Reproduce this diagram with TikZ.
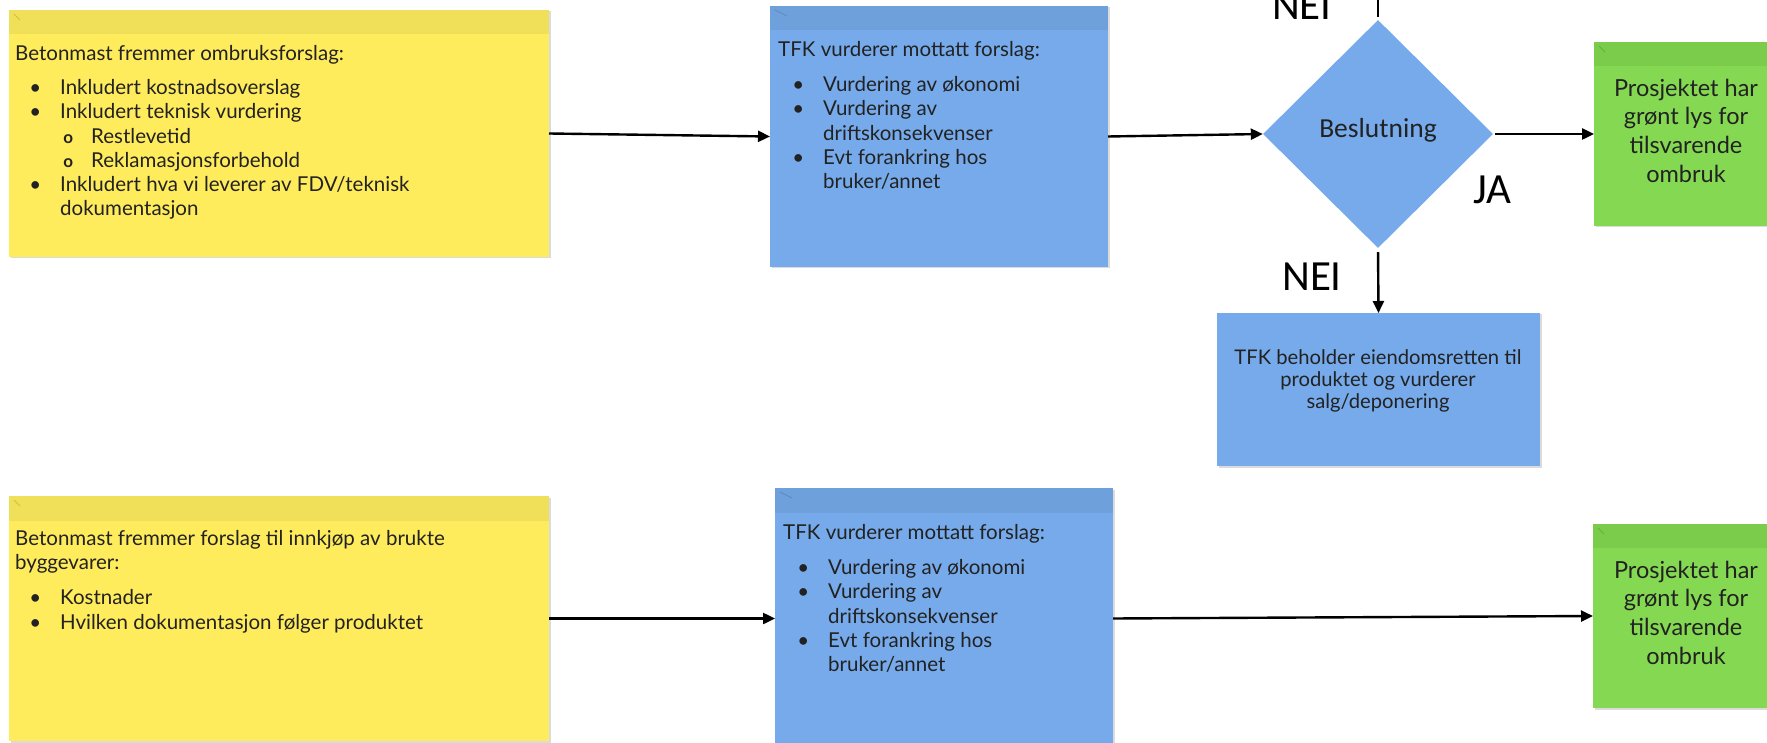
\documentclass[tikz,border=0pt]{standalone}
\usepackage{fontspec}
\setmainfont{Lato}
\newfontfamily\calib{Carlito}
\usetikzlibrary{arrows.meta,shapes.geometric,fit,calc}
\definecolor{ybody}{HTML}{FFEC5C}
\definecolor{yhead}{HTML}{F0DF58}
\definecolor{bbody}{HTML}{76AAEA}
\definecolor{bhead}{HTML}{6EA0DC}
\definecolor{gbody}{HTML}{85D952}
\definecolor{ghead}{HTML}{7ACC4A}
\definecolor{ink}{HTML}{222222}
\newcommand\lone[1]{\hspace*{20pt}\makebox[0pt]{\textbullet}\hspace*{25pt}#1}
\newcommand\lcont[1]{\hspace*{45pt}#1}
\newcommand\ltwo[1]{\hspace*{53pt}\makebox[0pt]{\fontsize{17}{17}\selectfont\bfseries o}\hspace*{23pt}#1}
\newcommand\topstrut[1]{\rule{0pt}{#1}}
\begin{document}
\begin{tikzpicture}[x=1pt,y=-1pt,
  box/.style={inner sep=0pt, outer sep=0pt, preaction={fill=black!14, transform canvas={shift={(1.5pt,-1.5pt)}}}},
  stxt/.style={anchor=north west, inner sep=0pt, align=left, text=ink, font=\fontsize{20.5}{24.3}\selectfont},
  ctxt/.style={inner sep=0pt, align=center, text=ink},
  lbl/.style={inner sep=0pt, anchor=base, text=black, font=\calib\fontsize{43}{46}\selectfont},
  conn/.style={line width=2.4pt, -{Triangle[length=12pt,width=11pt]}},
  icon/.style={line width=0.8pt, opacity=0.35}
]
\useasboundingbox (0,0) rectangle (1767,743);
\clip (0,0) rectangle (1767,743);
\fill[white] (0,0) rectangle (1767,743);

% ---- top row ----
\node[box, fit={(9,10) (549,257)}, fill=ybody] (y1) {};
\fill[yhead] (y1.north west) rectangle ($(y1.north east)+(0,24)$);
\draw[icon, yhead!60!black] ($(y1.north west)+(5,4)$) -- ++(6,6);
\node[stxt] (y1t) at (15,40) {\topstrut{20pt}Betonmast fremmer ombruksforslag:\\[10pt]
\lone{Inkludert kostnadsoverslag}\\
\lone{Inkludert teknisk vurdering}\\
\ltwo{Restlevetid}\\
\ltwo{Reklamasjonsforbehold}\\
\lone{Inkludert hva vi leverer av FDV/teknisk}\\
\lcont{dokumentasjon}};

\node[box, fit={(770,6) (1108,267)}, fill=bbody] (b1) {};
\fill[bhead] (b1.north west) rectangle ($(b1.north east)+(0,24)$);
\draw[icon, bhead!60!black] ($(b1.north west)+(5,4)$) -- ++(12,6);
\node[stxt] (b1t) at (778,36) {\topstrut{20pt}TFK vurderer mottatt forslag:\\[11pt]
\lone{Vurdering av økonomi}\\
\lone{Vurdering av}\\
\lcont{driftskonsekvenser}\\
\lone{Evt forankring hos}\\
\lcont{bruker/annet}};

\node[diamond, aspect=1, fill=bbody, minimum width=230pt, minimum height=228pt, inner sep=0pt] (d) at (1378,134) {};
\node[ctxt, font=\calib\fontsize{27.5}{30}\selectfont] (dt) at (1378,130) {Beslutning};

\node[box, fit={(1594,42) (1778,226)}, fill=gbody] (g1) {};
\fill[ghead] (g1.north west) rectangle ($(g1.north east)+(0,24)$);
\draw[icon, ghead!60!black] ($(g1.north west)+(5,4)$) -- ++(6,6);
\node[ctxt, anchor=north, font=\fontsize{23.5}{28.7}\selectfont] (g1t) at (1686,74) {\topstrut{22pt}Prosjektet har\\grønt lys for\\tilsvarende\\ombruk};

\node[box, fit={(1217,313) (1540,466)}, fill=bbody] (b3) {};
\node[ctxt, anchor=north, font=\fontsize{20.2}{22}\selectfont] (b3t) at (1378,344) {\topstrut{20pt}TFK beholder eiendomsretten til\\produktet og vurderer\\salg/deponering};

\node[lbl] (nei1) at (1302,20) {NEI};
\node[lbl] (ja) at (1492,204) {JA};
\node[lbl] (nei2) at (1312,291) {NEI};

\draw[conn] (y1.east) -- (b1.west);
\draw[conn] (b1.east) -- (d.west);
\draw[conn, shorten <=2pt] (d.east) -- (g1.west);
\draw[conn, shorten <=4pt] (d.south) -- (b3.north);
\coordinate (up) at (1378,-20);
\draw[line width=2.4pt, shorten <=3pt] (d.north) -- (up);

% ---- bottom row ----
\node[box, fit={(9,496) (549,741)}, fill=ybody] (y2) {};
\fill[yhead] (y2.north west) rectangle ($(y2.north east)+(0,25)$);
\draw[icon, yhead!60!black] ($(y2.north west)+(5,4)$) -- ++(6,6);
\node[stxt] (y2t) at (15,525) {\topstrut{20pt}Betonmast fremmer forslag til innkjøp av brukte\\
byggevarer:\\[11pt]
\lone{Kostnader}\\
\lone{Hvilken dokumentasjon følger produktet}};

\node[box, fit={(775,488) (1113,749)}, fill=bbody] (b2) {};
\fill[bhead] (b2.north west) rectangle ($(b2.north east)+(0,25)$);
\draw[icon, bhead!60!black] ($(b2.north west)+(5,4)$) -- ++(12,6);
\node[stxt] (b2t) at (783,519) {\topstrut{20pt}TFK vurderer mottatt forslag:\\[11pt]
\lone{Vurdering av økonomi}\\
\lone{Vurdering av}\\
\lcont{driftskonsekvenser}\\
\lone{Evt forankring hos}\\
\lcont{bruker/annet}};

\node[box, fit={(1593,524) (1777,708)}, fill=gbody] (g2) {};
\fill[ghead] (g2.north west) rectangle ($(g2.north east)+(0,24)$);
\draw[icon, ghead!60!black] ($(g2.north west)+(5,4)$) -- ++(6,6);
\node[ctxt, anchor=north, font=\fontsize{23.5}{28.7}\selectfont] (g2t) at (1686,556) {\topstrut{22pt}Prosjektet har\\grønt lys for\\tilsvarende\\ombruk};

\draw[conn] (y2.east) -- (b2.west);
\draw[conn] (b2.east) -- (g2.west);
\end{tikzpicture}
\end{document}
